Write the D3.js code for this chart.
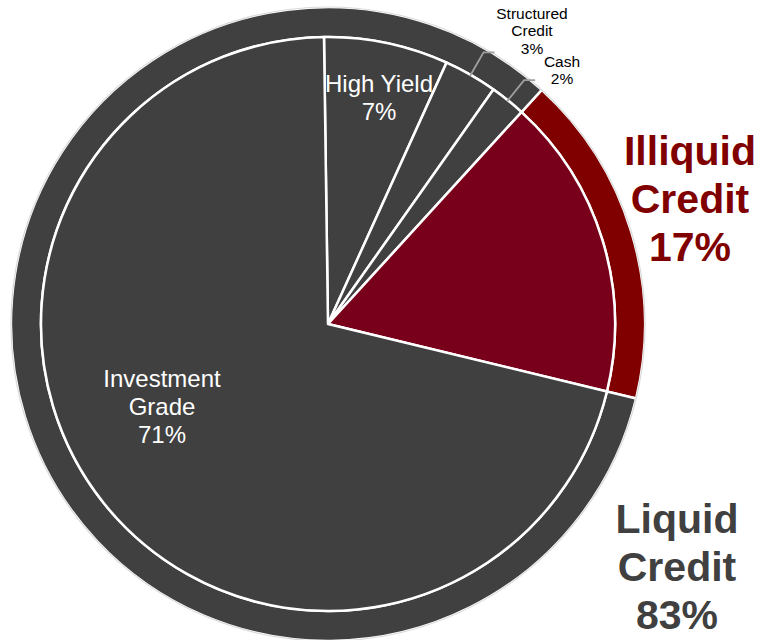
<!DOCTYPE html>
<html>
<head>
<meta charset="utf-8">
<script src="https://cdn.jsdelivr.net/npm/d3@7"></script>
<style>
  html, body { margin: 0; padding: 0; background: #fff; }
  svg { display: block; }
  text { font-family: "Liberation Sans", Arial, sans-serif; }
</style>
</head>
<body>
<svg id="chart" width="759" height="640"></svg>
<script>
// Portfolio breakdown by sub-sector (inner pie)
const sectors = ["High Yield", "Structured Credit", "Cash", "Illiquid Credit", "Investment Grade"];
const sectorValues = [7, 3, 2, 17, 71];
const sectorLabels = [["High Yield", "7%"], ["Structured", "Credit", "3%"], ["Cash", "2%"], [], ["Investment", "Grade", "71%"]];

// Liquidity split (outer ring)
const liquidity = ["Illiquid Credit", "Liquid Credit"];
const liquidityValues = [17, 83];
const liquidityLabels = [["Illiquid", "Credit", "17%"], ["Liquid", "Credit", "83%"]];

const svg = d3.select("#chart");
const cx = 328, cy = 324;
const rPie = 287, rRing = 317;
const deg = Math.PI / 180;
const start = -0.8 * deg;

const dark = "#404040";
const innerColor = d3.scaleOrdinal().domain(sectors)
  .range([dark, dark, dark, "#79001b", dark]);
const ringColor = d3.scaleOrdinal().domain(liquidity).range(["#800000", dark]);

const g = svg.append("g").attr("transform", `translate(${cx},${cy})`);

// Inner pie
const pieInner = d3.pie().sort(null).value(d => d)
  .startAngle(start).endAngle(start + 2 * Math.PI);
const innerArcs = pieInner(sectorValues);

// Outer ring starts where the illiquid slice starts so the two line up
const illiquidIdx = sectors.indexOf("Illiquid Credit");
const ringStart = innerArcs[illiquidIdx].startAngle;
const pieRing = d3.pie().sort(null).value(d => d)
  .startAngle(ringStart).endAngle(ringStart + 2 * Math.PI);
const ringArcs = pieRing(liquidityValues);

const ringArc = d3.arc().innerRadius(rPie).outerRadius(rRing);
g.selectAll("path.ring").data(ringArcs).join("path")
  .attr("class", "ring")
  .attr("d", ringArc)
  .attr("fill", (d, i) => ringColor(liquidity[i]))
  .attr("stroke", "#fff")
  .attr("stroke-width", 2.5);

g.append("circle").attr("r", rRing).attr("fill", "none")
  .attr("stroke", "#dadada").attr("stroke-width", 1.2);

const pieArc = d3.arc().innerRadius(0).outerRadius(rPie);
g.selectAll("path.slice").data(innerArcs).join("path")
  .attr("class", "slice")
  .attr("d", pieArc)
  .attr("fill", (d, i) => innerColor(sectors[i]))
  .attr("stroke", "#fff")
  .attr("stroke-width", 2.5)
  .attr("stroke-linejoin", "round");

// Label placement (relative to chart center)
const inside = {
  "High Yield": { x: 51, y: -232, size: 24, lh: 27.5 },
  "Investment Grade": { x: -166, y: 63, size: 24, lh: 28 }
};
const outsideSmall = {
  "Structured Credit": { x: 204, y: -305, size: 15.5, lh: 17.4 },
  "Cash": { x: 234, y: -257, size: 15.5, lh: 17.4 }
};

function polar(r, a) { return [r * Math.sin(a), -r * Math.cos(a)]; }

innerArcs.forEach((a, i) => {
  const name = sectors[i];
  const lines = sectorLabels[i];
  if (inside[name]) {
    const p = inside[name];
    const t = g.append("text").attr("text-anchor", "middle")
      .attr("fill", "#fff").attr("font-size", p.size);
    lines.forEach((s, k) => t.append("tspan").attr("x", p.x).attr("y", p.y + k * p.lh).text(s));
  } else if (outsideSmall[name]) {
    const p = outsideSmall[name];
    const mid = (a.startAngle + a.endAngle) / 2;
    const p0 = polar(rPie - 1, mid);
    const p1 = polar(rPie + 26, mid);
    const p2 = [p1[0] + 11, p1[1]];
    g.append("polyline")
      .attr("points", [p0, p1, p2].map(q => q.join(",")).join(" "))
      .attr("fill", "none").attr("stroke", "#a0a0a0").attr("stroke-width", 1.8);
    const t = g.append("text").attr("text-anchor", "middle")
      .attr("fill", "#000").attr("font-size", p.size);
    lines.forEach((s, k) => t.append("tspan").attr("x", p.x).attr("y", p.y + k * p.lh).text(s));
  }
});

// Ring labels
const ringPos = {
  "Illiquid Credit": { x: 362, y: -159, color: "#800000" },
  "Liquid Credit": { x: 349, y: 209, color: dark }
};
liquidity.forEach((name, i) => {
  const p = ringPos[name];
  const t = g.append("text").attr("text-anchor", "middle")
    .attr("fill", p.color).attr("font-size", 41).attr("font-weight", "bold");
  liquidityLabels[i].forEach((s, k) => t.append("tspan").attr("x", p.x).attr("y", p.y + k * 48).text(s));
});
</script>
</body>
</html>
